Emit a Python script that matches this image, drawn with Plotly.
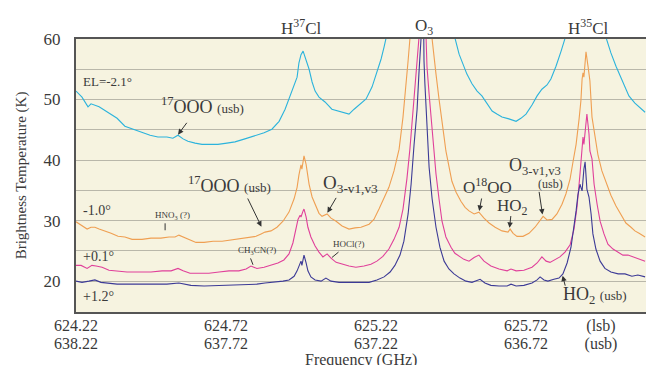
import plotly.graph_objects as go

# ---- spectra: frequency (GHz, lsb) and brightness temperature (K) ----
freq_m21 = [624.220, 624.240, 624.260, 624.270, 624.297, 624.327, 624.357, 624.383, 624.413, 624.440,
            624.467, 624.493, 624.523, 624.543, 624.560, 624.577, 624.593, 624.617, 624.640, 624.667,
            624.693, 624.723, 624.750, 624.783, 624.817, 624.847, 624.873, 624.897, 624.917, 624.933,
            624.947, 624.957, 624.963, 624.970, 624.977, 624.980, 624.987, 624.997, 625.007, 625.017,
            625.030, 625.050, 625.073, 625.097, 625.113, 625.130, 625.147, 625.167, 625.187, 625.207,
            625.223, 625.237, 625.247, 625.257, 625.267, 625.280, 625.370, 625.460, 625.473, 625.483,
            625.497, 625.507, 625.523, 625.540, 625.557, 625.573, 625.590, 625.607, 625.623, 625.640,
            625.663, 625.687, 625.703, 625.720, 625.740, 625.757, 625.773, 625.790, 625.803, 625.820,
            625.837, 625.853, 625.870, 625.920, 625.970, 625.987, 626.003, 626.020, 626.040, 626.063,
            626.083, 626.097, 626.117]
tb_m21 = [51.4, 50.4, 48.8, 49.3, 48.8, 47.9, 46.9, 45.6, 45.1, 44.6,
          44.1, 43.8, 43.8, 43.6, 44.1, 43.5, 43.1, 42.8, 42.6, 42.6,
          42.6, 42.8, 43.0, 43.5, 44.0, 44.5, 45.1, 46.4, 48.4, 50.6,
          52.2, 53.7, 56.0, 57.4, 58.0, 57.5, 56.7, 55.0, 52.9, 51.4,
          50.4, 49.6, 48.4, 48.1, 47.9, 47.6, 48.4, 49.3, 50.1, 52.1,
          54.4, 56.7, 58.7, 60.7, 63.0, 66.0, 90.0, 66.0, 62.5, 60.2,
          57.5, 56.2, 54.2, 52.6, 51.4, 50.6, 49.4, 48.1, 47.6, 47.1,
          46.8, 46.4, 46.9, 47.6, 49.1, 50.6, 51.7, 52.4, 53.4, 55.5,
          58.0, 60.5, 63.3, 80.0, 63.3, 60.2, 57.7, 55.5, 53.1, 50.6,
          49.4, 48.8, 47.9]

freq_m10 = [624.220, 624.237, 624.257, 624.270, 624.283, 624.297, 624.317, 624.337, 624.360, 624.383,
            624.407, 624.440, 624.470, 624.503, 624.530, 624.550, 624.563, 624.577, 624.597, 624.620,
            624.647, 624.677, 624.707, 624.737, 624.767, 624.797, 624.820, 624.837, 624.850, 624.870,
            624.890, 624.910, 624.930, 624.947, 624.957, 624.963, 624.970, 624.973, 624.980, 624.987,
            624.997, 625.007, 625.020, 625.030, 625.040, 625.057, 625.070, 625.087, 625.107, 625.130,
            625.150, 625.170, 625.197, 625.213, 625.230, 625.247, 625.263, 625.280, 625.297, 625.310,
            625.320, 625.327, 625.333, 625.340, 625.370, 625.400, 625.407, 625.413, 625.420, 625.430,
            625.437, 625.447, 625.453, 625.463, 625.473, 625.487, 625.503, 625.517, 625.530, 625.547,
            625.563, 625.580, 625.597, 625.617, 625.640, 625.660, 625.667, 625.677, 625.690, 625.710,
            625.730, 625.750, 625.767, 625.777, 625.790, 625.807, 625.823, 625.840, 625.853, 625.867,
            625.877, 625.887, 625.897, 625.903, 625.907, 625.910, 625.913, 625.920, 625.927, 625.933,
            625.940, 625.950, 625.960, 625.973, 625.987, 626.003, 626.020, 626.037, 626.053, 626.070,
            626.083, 626.097, 626.107, 626.117]
tb_m10 = [29.8, 29.3, 28.6, 28.9, 28.9, 28.6, 28.3, 27.9, 27.4, 27.3,
          26.9, 26.9, 27.1, 27.1, 27.3, 27.3, 27.6, 27.3, 26.8, 26.4,
          26.4, 26.6, 26.6, 26.8, 27.1, 27.3, 27.4, 27.8, 28.1, 28.3,
          28.9, 29.9, 31.4, 33.6, 35.5, 37.5, 39.2, 38.5, 40.7, 39.3,
          36.0, 33.9, 32.2, 31.2, 30.7, 31.1, 30.4, 29.9, 29.1, 28.6,
          28.8, 28.9, 29.4, 30.2, 31.9, 33.7, 35.5, 38.2, 41.8, 47.1,
          52.1, 56.4, 60.0, 63.3, 90.0, 63.3, 60.0, 56.7, 54.2, 50.1,
          47.1, 43.8, 41.5, 39.0, 36.5, 34.7, 33.2, 32.2, 31.6, 31.1,
          31.4, 30.4, 29.6, 28.9, 28.3, 28.1, 28.6, 27.9, 27.4, 27.4,
          27.9, 28.9, 30.1, 30.7, 30.1, 30.2, 31.1, 32.7, 34.4, 36.9,
          39.8, 42.6, 46.8, 49.8, 53.4, 54.4, 53.7, 57.9, 55.4, 53.1,
          47.1, 43.5, 40.8, 38.2, 36.4, 34.2, 32.4, 30.9, 29.6, 28.9,
          28.3, 27.9, 27.6, 27.3]

freq_p01 = [624.220, 624.237, 624.257, 624.273, 624.287, 624.307, 624.330, 624.357, 624.390, 624.430,
            624.470, 624.507, 624.537, 624.560, 624.577, 624.600, 624.630, 624.663, 624.697, 624.730,
            624.763, 624.787, 624.803, 624.823, 624.847, 624.870, 624.893, 624.913, 624.930, 624.943,
            624.953, 624.960, 624.967, 624.970, 624.977, 624.980, 624.987, 624.993, 625.003, 625.017,
            625.030, 625.043, 625.057, 625.070, 625.087, 625.107, 625.130, 625.153, 625.180, 625.203,
            625.223, 625.243, 625.263, 625.280, 625.297, 625.310, 625.323, 625.333, 625.343, 625.350,
            625.357, 625.363, 625.367, 625.372, 625.383, 625.387, 625.390, 625.397, 625.403, 625.410,
            625.420, 625.430, 625.440, 625.453, 625.470, 625.483, 625.497, 625.513, 625.530, 625.547,
            625.563, 625.580, 625.603, 625.630, 625.657, 625.670, 625.687, 625.713, 625.740, 625.757,
            625.773, 625.787, 625.800, 625.817, 625.833, 625.850, 625.867, 625.880, 625.890, 625.900,
            625.907, 625.910, 625.913, 625.920, 625.923, 625.930, 625.933, 625.940, 625.947, 625.957,
            625.967, 625.980, 625.993, 626.010, 626.027, 626.043, 626.060, 626.077, 626.093, 626.107,
            626.117]
tb_p01 = [22.6, 22.6, 22.1, 22.6, 22.5, 22.3, 21.8, 21.7, 21.5, 21.5,
          21.5, 21.7, 21.7, 22.1, 21.7, 21.3, 21.3, 21.3, 21.5, 21.7,
          21.7, 22.0, 22.5, 22.1, 22.3, 22.6, 23.0, 23.5, 24.5, 26.3,
          28.6, 30.2, 30.9, 30.6, 31.6, 31.9, 30.6, 28.9, 27.3, 25.8,
          24.8, 24.0, 24.5, 23.8, 23.1, 22.8, 22.5, 22.3, 22.5, 22.8,
          23.3, 24.1, 25.3, 26.9, 28.9, 31.9, 36.9, 41.8, 47.6, 52.6,
          56.4, 60.0, 62.5, 90.0, 62.5, 60.0, 55.4, 50.9, 47.1, 42.6,
          37.7, 33.6, 29.9, 27.3, 25.6, 24.6, 24.1, 23.6, 23.3, 23.9,
          24.3, 23.3, 22.5, 22.0, 21.7, 22.0, 21.7, 21.8, 22.3, 23.0,
          24.0, 23.3, 23.1, 23.5, 24.0, 24.8, 26.0, 28.6, 32.2, 37.7,
          42.6, 43.8, 42.6, 46.0, 47.6, 44.3, 41.5, 40.2, 36.0, 32.7,
          29.9, 27.8, 26.1, 25.3, 24.8, 24.3, 24.3, 24.0, 23.8, 23.5,
          23.3]

freq_p12 = [624.220, 624.240, 624.263, 624.283, 624.303, 624.330, 624.357, 624.397, 624.437, 624.480,
            624.523, 624.563, 624.603, 624.647, 624.690, 624.737, 624.780, 624.823, 624.850, 624.880,
            624.910, 624.930, 624.947, 624.957, 624.963, 624.970, 624.973, 624.980, 624.987, 624.993,
            625.003, 625.017, 625.037, 625.053, 625.070, 625.097, 625.130, 625.163, 625.197, 625.223,
            625.247, 625.267, 625.283, 625.300, 625.313, 625.327, 625.337, 625.347, 625.357, 625.363,
            625.367, 625.370, 625.372, 625.377, 625.380, 625.383, 625.390, 625.397, 625.407, 625.420,
            625.433, 625.447, 625.463, 625.480, 625.500, 625.520, 625.540, 625.557, 625.567, 625.583,
            625.603, 625.630, 625.657, 625.670, 625.687, 625.713, 625.740, 625.757, 625.767, 625.780,
            625.793, 625.813, 625.830, 625.843, 625.857, 625.870, 625.880, 625.887, 625.893, 625.900,
            625.903, 625.907, 625.913, 625.917, 625.923, 625.930, 625.937, 625.943, 625.953, 625.967,
            625.983, 626.003, 626.027, 626.050, 626.073, 626.093, 626.117]
tb_p12 = [20.0, 19.8, 20.0, 20.2, 19.8, 19.7, 19.5, 19.5, 19.5, 19.5,
          19.5, 19.7, 19.3, 19.2, 19.3, 19.3, 19.5, 19.5, 19.7, 19.8,
          20.0, 20.2, 20.8, 21.7, 22.6, 23.3, 22.6, 24.3, 23.0, 21.7,
          20.7, 20.2, 20.0, 20.5, 20.0, 19.8, 19.8, 19.8, 19.8, 20.2,
          20.7, 21.5, 22.6, 24.3, 26.6, 31.1, 36.0, 42.6, 48.4, 54.2,
          57.5, 60.0, 95.0, 60.0, 56.4, 52.6, 46.0, 38.8, 33.6, 28.9,
          25.6, 23.3, 22.0, 21.2, 20.5, 20.0, 19.8, 20.2, 20.3, 19.7,
          19.3, 19.2, 19.2, 19.5, 19.2, 19.3, 19.7, 20.2, 20.7, 20.2,
          20.0, 20.3, 20.5, 21.2, 23.0, 25.6, 28.9, 31.6, 34.2, 36.0,
          35.5, 34.9, 38.5, 39.7, 35.2, 33.9, 31.1, 27.8, 25.3, 23.3,
          22.1, 21.5, 21.2, 21.2, 20.8, 21.0, 20.7]

# ---- axis ticks ----
y_tickvals = [15, 20, 25, 30, 35, 40, 45, 50, 55, 60]
y_ticktext = ["", "20", "", "30", "", "40", "", "50", "", "60"]
x_tickvals = [624.22, 624.72, 625.22, 625.72, 625.97]
x_ticktext_lsb = ["624.22", "624.72", "625.22", "625.72", "(lsb)"]
x_ticktext_usb = ["638.22", "637.72", "637.22", "636.72", "(usb)"]
x_range = [624.22, 626.12]

SERIF = "Liberation Serif"
INK = "#3a3a3a"

series = [
    (freq_m21, tb_m21, "#2bb3dc", "EL=-2.1°"),
    (freq_m10, tb_m10, "#ef9f52", "-1.0°"),
    (freq_p01, tb_p01, "#e0409a", "+0.1°"),
    (freq_p12, tb_p12, "#3c3a96", "+1.2°"),
]

fig = go.Figure()
for fx, ty, col, name in series:
    fig.add_trace(go.Scatter(x=fx, y=ty, mode="lines", name=name,
                             line=dict(color=col, width=1.1), showlegend=False,
                             hoverinfo="skip"))

# empty trace that carries the upper-sideband frequency axis
fig.add_trace(go.Scatter(x=x_range, y=[None, None], xaxis="x2", mode="lines",
                         showlegend=False, hoverinfo="skip"))

annotations = []


def label(x, y, text, size, xanchor="left"):
    annotations.append(dict(x=x, y=y, xref="x", yref="y", text=text, showarrow=False,
                            xanchor=xanchor, yanchor="middle",
                            font=dict(family=SERIF, size=size, color=INK)))


def pointer(x0, y0, x1, y1, head=2):
    annotations.append(dict(x=x1, y=y1, ax=x0, ay=y0, xref="x", yref="y", axref="x", ayref="y",
                            text="", showarrow=True, arrowhead=head, arrowsize=1.1,
                            arrowwidth=1, arrowcolor="#333333"))


# elevation labels
label(624.238, 52.9, "EL=-2.1°", 13)
label(624.236, 31.6, "-1.0°", 14)
label(624.236, 24.1, "+0.1°", 14)
label(624.236, 17.5, "+1.2°", 14)

# line identifications
label(624.498, 49.0, "<sup>17</sup>OOO <span style='font-size:13px'>(usb)</span>", 18)
pointer(624.593, 46.4, 624.560, 44.2)

label(624.588, 35.9, "<sup>17</sup>OOO <span style='font-size:13px'>(usb)</span>", 18)
pointer(624.790, 33.9, 624.838, 29.0)

label(624.543, 30.8, "HNO<sub>3</sub> (?)", 9, xanchor="center")
pointer(624.517, 29.8, 624.517, 28.4, head=0)

label(624.823, 25.0, "CH<sub>3</sub>CN(?)", 9, xanchor="center")
pointer(624.800, 24.0, 624.810, 22.7, head=0)

label(625.130, 26.1, "HOCl(?)", 9, xanchor="center")
pointer(625.100, 25.0, 625.073, 23.9, head=0)

label(625.036, 36.0, "O<sub>3-v1,v3</sub>", 19)
pointer(625.090, 34.0, 625.058, 31.3)

label(625.503, 35.7, "O<sup>18</sup>OO", 17)
pointer(625.573, 33.9, 625.564, 31.6)

label(625.616, 32.3, "HO<sub>2</sub>", 17)
pointer(625.670, 31.0, 625.665, 28.8)

label(625.658, 39.0, "O<sub>3-v1,v3</sub>", 18)
label(625.803, 36.0, "(usb)", 12, xanchor="center")
pointer(625.763, 35.0, 625.775, 31.0)

label(625.836, 17.6, "HO<sub>2</sub> <span style='font-size:13px'>(usb)</span>", 18)
pointer(625.852, 19.0, 625.842, 20.9)

# species names above the frame
for fx, txt in [(624.970, "H<sup>37</sup>Cl"), (625.380, "O<sub>3</sub>"), (625.927, "H<sup>35</sup>Cl")]:
    annotations.append(dict(x=fx, y=1.045, xref="x", yref="paper", text=txt, showarrow=False,
                            xanchor="center", yanchor="middle",
                            font=dict(family=SERIF, size=17, color=INK)))

# axis titles
annotations.append(dict(x=0.5, y=-0.175, xref="paper", yref="paper", text="Frequency (GHz)",
                        showarrow=False, xanchor="center", yanchor="middle",
                        font=dict(family=SERIF, size=16, color=INK)))
annotations.append(dict(x=-0.095, y=0.5, xref="paper", yref="paper",
                        text="Brightness Temperature (K)", textangle=-90,
                        showarrow=False, xanchor="center", yanchor="middle",
                        font=dict(family=SERIF, size=15, color=INK)))

tick_font = dict(family=SERIF, size=16, color=INK)

fig.update_layout(
    width=646, height=365,
    margin=dict(l=76, r=0, t=39, b=53),
    paper_bgcolor="white",
    plot_bgcolor="#f6f3e0",
    font=dict(family=SERIF, size=15, color=INK),
    annotations=annotations,
    # lower sideband frequencies (first row of tick labels)
    xaxis=dict(range=x_range, tickvals=x_tickvals, ticktext=x_ticktext_lsb,
               showgrid=False, zeroline=False, ticks="", ticklabelstandoff=-2,
               showline=True, linecolor="#555555",
               linewidth=2, mirror=True, tickfont=tick_font, automargin=False),
    # upper sideband frequencies (second row of tick labels)
    xaxis2=dict(range=x_range, tickvals=x_tickvals, ticktext=x_ticktext_usb,
                overlaying="x", anchor="y", side="bottom",
                showgrid=False, zeroline=False, showline=False, ticks="",
                ticklabelstandoff=20, tickfont=tick_font, automargin=False),
    yaxis=dict(range=[14.9, 60], tickvals=y_tickvals, ticktext=y_ticktext,
               showgrid=True, gridcolor="#b9b7aa", gridwidth=1, zeroline=False,
               ticks="outside", ticklen=10, tickcolor="rgba(0,0,0,0)",
               showline=True, linecolor="#555555", linewidth=2, mirror=False,
               tickfont=dict(family=SERIF, size=17, color=INK), automargin=False),
)

fig.write_html("out.html")
